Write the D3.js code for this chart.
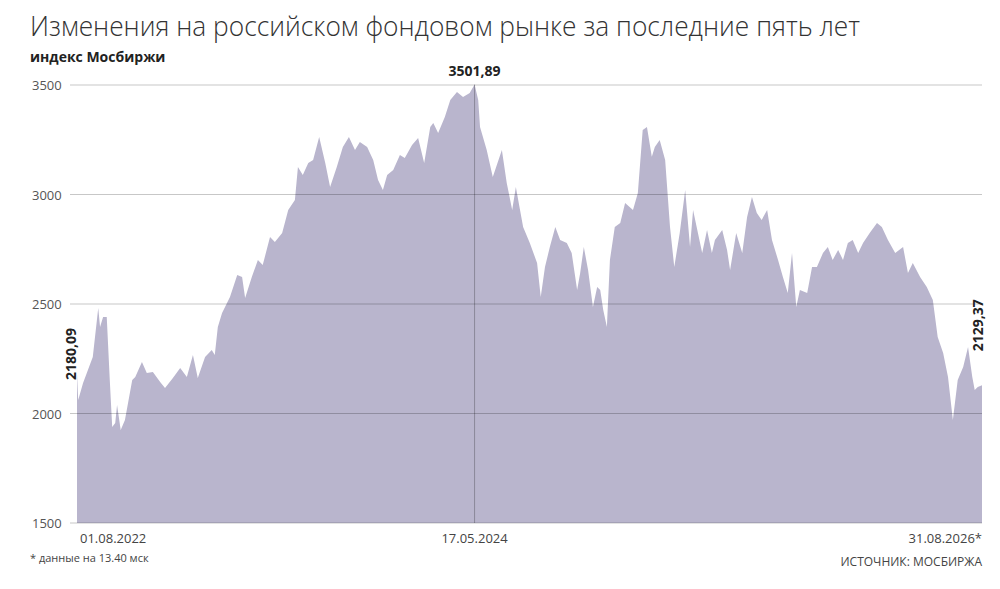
<!DOCTYPE html>
<html><head><meta charset="utf-8">
<script src="https://cdn.jsdelivr.net/npm/d3@7/dist/d3.min.js"></script>
<style>body{margin:0;background:#fff;font-family:"Open Sans",sans-serif}</style>
</head><body><svg id="c" width="1000" height="589"></svg>
<script>
const startDate = "2022-08-01";
const endDate = "2026-08-31";
const dayOffsets = [0,2,10,18,26,35,38,43,49,54,58,63,66,72,79,91,96,107,115,125,137,145,158,170,181,191,199,211,222,227,232,239,252,264,272,277,288,298,306,318,326,338,348,359,364,372,381,389,399,409,417,428,438,448,458,466,478,488,496,504,511,521,532,540,552,562,572,582,587,595,606,615,626,636,647,655,661,
664,675,685,700,708,717,723,735,746,758,764,771,779,788,796,807,815,824,829,835,842,850,857,862,867,873,878,886,895,903,916,924,932,939,947,952,960,969,977,984,993,1002,1010,1015,1023,1030,1038,1046,1051,1063,1071,1076,1086,1096,1104,1112,1120,1128,1137,1145,1155,1163,1171,1178,1185,1191,1203,1211,1219,1229,1237,1245,1254,1262,1270,1278,1287,1295,1306,1318,1326,1336,1348,1361,1369,1377,1389,1400,1410,1418,1427,1435,1443,1451,1460,1468,1475,1479,1484,1491];
const values = [2180.09,2062,2139,2199,2258,2482,2395,2441,2441,2153,1938,1957,2039,1925,1970,2153,2167,2235,2185,2190,2144,2116,2162,2208,2167,2267,2162,2258,2290,2267,2395,2459,2532,2632,2623,2527,2623,2701,2678,2806,2783,2824,2929,2975,3126,3089,3144,3158,3263,3144,3034,3126,3217,3263,3203,3240,3217,3158,3066,3021,3089,3112,3180,3167,3226,3258,3144,3308,3326,3281,3354,3432,3468,3445,3463,3501.89,3432,
3308,3203,3080,3203,3053,2929,3034,2852,2779,2687,2532,2669,2760,2852,2792,2779,2733,2564,2642,2760,2655,2486,2578,2564,2473,2395,2701,2852,2870,2961,2929,3007,3295,3308,3172,3217,3249,3158,2852,2669,2824,3021,2760,2929,2824,2733,2838,2733,2792,2838,2747,2655,2824,2733,2897,2989,2916,2884,2929,2792,2701,2623,2550,2733,2486,2564,2550,2669,2669,2733,2760,2701,2747,2701,2779,2792,2733,2779,2824,2870,2852,2792,2733,2760,2642,2687,2623,2578,2518,2349,2276,2167,1970,2153,2212,2304,2167,2107,2121,2129.37];
const yTicks = [1500,2000,2500,3000,3500];
const xTickLabels = ["01.08.2022","17.05.2024","31.08.2026*"];
const peakDate = "2024-05-17";
const peakLabel = "3501,89", startLabel = "2180,09", endLabel = "2129,37";

const svg = d3.select("#c");
const parse = d3.timeParse("%Y-%m-%d");
const t0 = parse(startDate), t1 = parse(endDate);
const data = dayOffsets.map((d,i)=>({date:d3.timeDay.offset(t0,d), v:values[i]}));
const x = d3.scaleTime().domain([t0,t1]).range([77,982]);
const y = d3.scaleLinear().domain([1500,3500]).range([523,85]);

svg.append("text").attr("x",30).attr("y",36).attr("font-size",28).attr("font-weight",300).attr("fill","#333").attr("textLength",830).attr("lengthAdjust","spacingAndGlyphs").text("Изменения на российском фондовом рынке за последние пять лет");
svg.append("text").attr("x",30).attr("y",62).attr("font-size",14).attr("font-weight",700).attr("fill","#222").text("индекс Мосбиржи");

svg.append("path").datum(data).attr("fill","#b9b5cd")
  .attr("d",d3.area().x(d=>x(d.date)).y0(y(1500)).y1(d=>y(d.v)));

const g = svg.append("g");
yTicks.forEach(t=>{
  g.append("line").attr("x1",70).attr("x2",982).attr("y1",y(t)).attr("y2",y(t)).attr("stroke","#000").attr("stroke-opacity",0.22).attr("stroke-width",1);
  g.append("text").attr("x",32).attr("y",y(t)+5).attr("font-size",13).attr("fill","#555").text(t);
});
const pd = parse(peakDate);
svg.append("line").attr("x1",x(pd)).attr("x2",x(pd)).attr("y1",y(3501.89)).attr("y2",y(1500)).attr("stroke","#000").attr("stroke-opacity",0.25);
svg.append("text").attr("x",x(pd)).attr("y",76).attr("text-anchor","middle").attr("font-size",14).attr("font-weight",700).attr("fill","#222").text(peakLabel);
svg.append("text").attr("transform",`translate(${x(t0)-1},${y(2180.09)-20}) rotate(-90)`).attr("text-anchor","middle").attr("font-size",14).attr("font-weight",700).attr("fill","#222").text(startLabel);
svg.append("text").attr("transform",`translate(${x(t1)+1},${y(2129.37)-60}) rotate(-90)`).attr("text-anchor","middle").attr("font-size",14).attr("font-weight",700).attr("fill","#222").text(endLabel);

const xl = [[t0,"start"],[pd,"middle"],[t1,"end"]];
xTickLabels.forEach((s,i)=>{
  svg.append("text").attr("x",x(xl[i][0])+(i==0?3:0)).attr("y",543).attr("text-anchor",xl[i][1]).attr("font-size",13).attr("fill","#444").text(s);
});
svg.append("text").attr("x",30).attr("y",562).attr("font-size",11).attr("fill","#444").text("* данные на 13.40 мск");
svg.append("text").attr("x",982).attr("y",566).attr("text-anchor","end").attr("font-size",12).attr("fill","#444").text("ИСТОЧНИК: МОСБИРЖА");
</script></body></html>
